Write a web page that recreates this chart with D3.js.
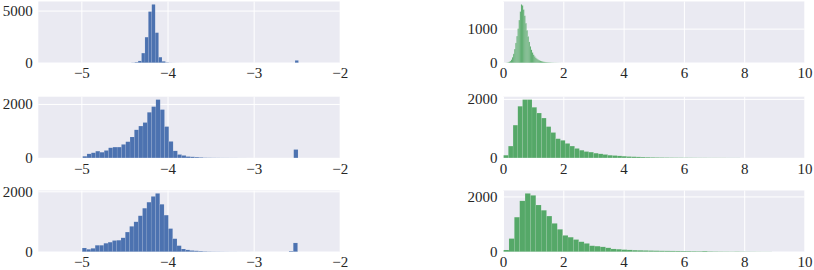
<!DOCTYPE html>
<html>
<head>
<meta charset="utf-8">
<script src="https://cdn.jsdelivr.net/npm/d3@7"></script>
<style>
  body { margin: 0; background: #fff; }
</style>
</head>
<body>
<div id="chart"></div>
<script>
    // histogram counts, one array per panel (left column: blue, right column: green)
    var leftTicks = [-5, -4, -3, -2];
    var rightTicks = [0, 2, 4, 6, 8, 10];

    var binStartA = [-4.46, -4.985, -4.99];
    var binWidthA = [0.0396, 0.05, 0.05];
    var binStartB = [0.08, 0.02, 0.02];
    var binWidthB = [0.0368, 0.157, 0.178];

    var countsA1 = [0, 15, 50, 170, 920, 2450, 4900, 5590, 2880, 530,
        130, 30, 10, 5, 3, 2, 1, 1, 0, 0,
        0, 0, 0, 0, 0, 0, 0, 0, 0, 0,
        0, 0, 0, 0, 0, 0, 0, 0, 0, 0,
        0, 0, 0, 0, 0, 0, 0, 0, 0, 220];
    var countsA2 = [60, 150, 190, 250, 210, 275, 375, 400, 400, 500,
        600, 775, 1040, 1180, 1310, 1690, 1900, 2160, 1790, 1160,
        610, 260, 125, 90, 50, 40, 30, 20, 10, 8,
        6, 5, 4, 3, 2, 2, 1, 1, 0, 0,
        0, 0, 0, 0, 0, 0, 0, 0, 0, 310];
    var countsA3 = [123, 80, 112, 213, 213, 280, 315, 370, 380, 460,
        650, 840, 990, 1190, 1440, 1640, 1830, 1930, 1570, 1210,
        765, 430, 200, 90, 60, 40, 30, 20, 12, 8,
        6, 5, 4, 3, 2, 2, 1, 1, 1, 0,
        0, 0, 0, 0, 0, 0, 0, 0, 20, 290];

    var countsB1 = [2, 5, 12, 25, 50, 90, 160, 260, 400, 580,
        780, 1000, 1250, 1500, 1710, 1680, 1560, 1380, 1160, 950,
        770, 610, 480, 380, 300, 235, 185, 145, 115, 90,
        72, 57, 45, 36, 29, 23, 18, 15, 12, 10,
        8, 6, 5, 4, 3, 3, 2, 2, 1, 1];
    var countsB2 = [91, 400, 1110, 1750, 1975, 1975, 1715, 1520, 1350, 1060,
        860, 650, 595, 490, 400, 320, 260, 215, 195, 160,
        137, 115, 90, 80, 68, 57, 46, 40, 34, 28,
        24, 20, 17, 15, 13, 11, 10, 9, 8, 7,
        6, 5, 5, 4, 4, 3, 3, 2, 2, 2];
    var countsB3 = [62, 475, 1250, 1840, 2110, 2040, 1690, 1500, 1290, 1025,
        810, 590, 525, 440, 360, 300, 215, 200, 175, 140,
        100, 90, 75, 65, 55, 50, 45, 40, 36, 32,
        30, 28, 26, 24, 22, 20, 18, 25, 15, 12,
        10, 9, 8, 10, 8, 6, 5, 4, 3, 3];

    var yTicksA = [[0, 5000], [0, 2000], [0, 2000]];
    var yTicksB = [[0, 1000], [0, 2000], [0, 2000]];

    var width = 814, height = 270;
    var colLeft = [38.3, 503];
    var rowTop = [1.5, 96.7, 190.5];
    var pw = 301.5, ph = 61.2;

    var svg = d3.select("#chart").append("svg")
        .attr("width", width)
        .attr("height", height);

    var panels = [];
    [countsA1, countsA2, countsA3].forEach(function (c, i) {
        panels.push({ col: 0, row: i, counts: c, start: binStartA[i], bw: binWidthA[i],
            domain: [-5.5, -2], xticks: leftTicks, yticks: yTicksA[i], color: "#4C72B0" });
    });
    [countsB1, countsB2, countsB3].forEach(function (c, i) {
        panels.push({ col: 1, row: i, counts: c, start: binStartB[i], bw: binWidthB[i],
            domain: [0, 10], xticks: rightTicks, yticks: yTicksB[i], color: "#55A868" });
    });

    panels.forEach(function (p) {
        var g = svg.append("g")
            .attr("transform", "translate(" + colLeft[p.col] + "," + rowTop[p.row] + ")");

        var x = d3.scaleLinear().domain(p.domain).range([0, pw]);
        var y = d3.scaleLinear().domain([0, d3.max(p.counts) * 1.05]).range([ph, 0]);

        g.append("rect")
            .attr("width", pw)
            .attr("height", ph)
            .attr("fill", "#EAEAF2");

        var xAxis = g.append("g")
            .attr("transform", "translate(0," + ph + ")")
            .call(d3.axisBottom(x).tickValues(p.xticks).tickSize(-ph).tickPadding(5)
                .tickFormat(d3.format("d")));
        var yAxis = g.append("g")
            .call(d3.axisLeft(y).tickValues(p.yticks).tickSize(-pw).tickPadding(5.5)
                .tickFormat(d3.format("d")));

        [xAxis, yAxis].forEach(function (a) {
            a.attr("font-family", null).attr("font-size", null);
            a.select(".domain").remove();
            a.selectAll(".tick line").attr("stroke", "#ffffff").attr("stroke-width", 1);
            a.selectAll(".tick text")
                .attr("fill", "#262626")
                .style("font-family", "'Liberation Serif'")
                .style("font-size", "15px");
        });

        var bins = p.counts.map(function (c, k) {
            return { x0: p.start + k * p.bw, x1: p.start + (k + 1) * p.bw, n: c };
        }).filter(function (d) { return d.n > 0; });

        g.append("g").selectAll("rect").data(bins).enter().append("rect")
            .attr("x", function (d) { return x(d.x0); })
            .attr("width", function (d) { return x(d.x1) - x(d.x0); })
            .attr("y", function (d) { return y(d.n); })
            .attr("height", function (d) { return ph - y(d.n); })
            .attr("fill", p.color)
            .attr("stroke", "#ffffff")
            .attr("stroke-opacity", 0.2)
            .attr("stroke-width", 0.4);
    });
</script>
</body>
</html>
